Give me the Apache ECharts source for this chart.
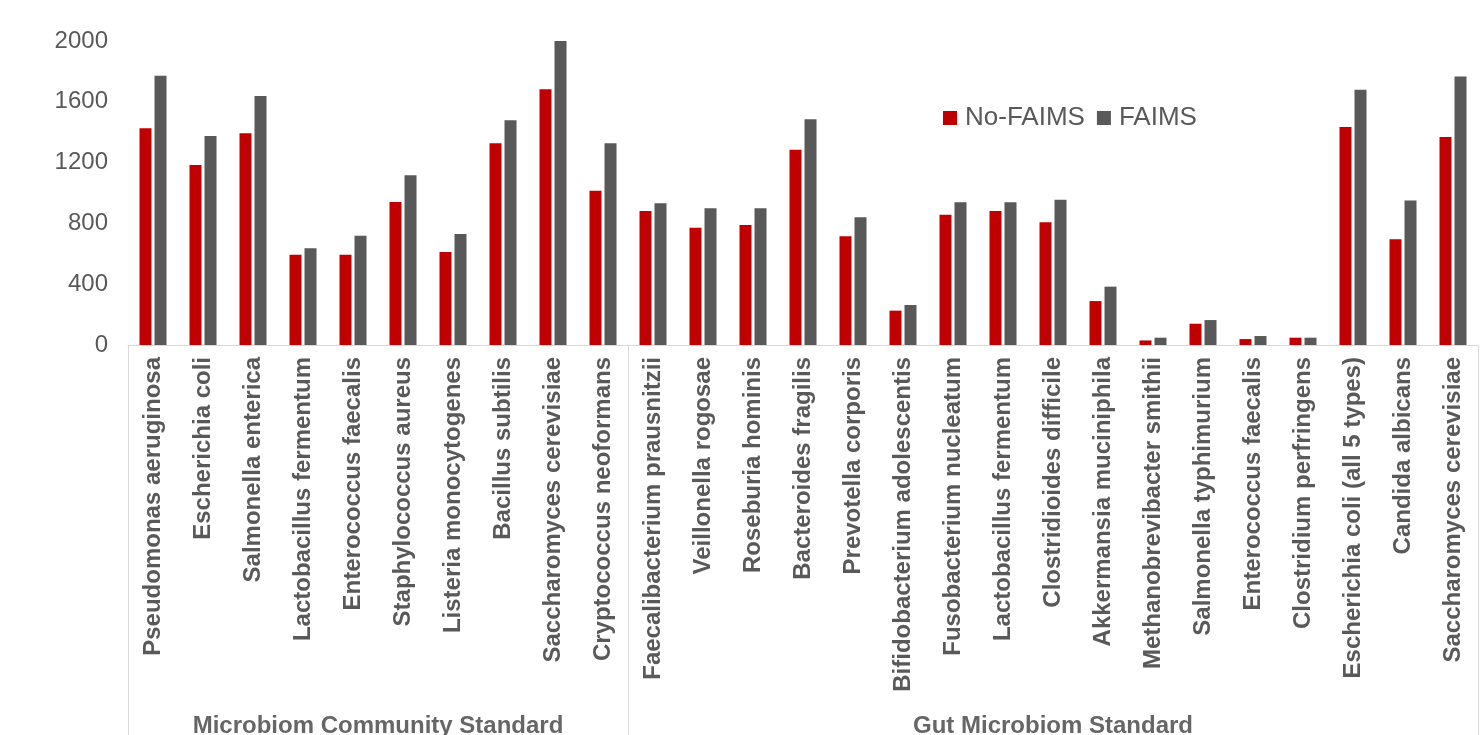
<!DOCTYPE html>
<html>
<head>
<meta charset="utf-8">
<script src="https://cdn.jsdelivr.net/npm/echarts@6/dist/echarts.min.js"></script>
<style>
html,body{margin:0;padding:0;background:#fff;}
#chart{width:1482px;height:735px;}
</style>
</head>
<body>
<div id="chart"></div>
<script>
const categories = [
  'Pseudomonas aeruginosa','Escherichia coli','Salmonella enterica','Lactobacillus fermentum',
  'Enterococcus faecalis','Staphylococcus aureus','Listeria monocytogenes','Bacillus subtilis',
  'Saccharomyces cerevisiae','Cryptococcus neoformans',
  'Faecalibacterium prausnitzii','Veillonella rogosae','Roseburia hominis','Bacteroides fragilis',
  'Prevotella corporis','Bifidobacterium adolescentis','Fusobacterium nucleatum','Lactobacillus fermentum ',
  'Clostridioides difficile','Akkermansia muciniphila','Methanobrevibacter smithii','Salmonella typhimurium',
  'Enterococcus faecalis ','Clostridium perfringens','Escherichia coli (all 5 types)','Candida albicans',
  'Saccharomyces cerevisiae '
];
const noFaims = [1426,1184,1393,594,594,941,612,1327,1682,1015,
  882,772,789,1285,715,226,857,882,807,289,30,140,39,48,1434,695,1368];
const faims = [1772,1375,1638,636,719,1116,730,1478,2000,1327,
  932,899,899,1485,840,263,939,939,956,384,48,164,59,48,1680,950,1766];
const seriesNames = ['No-FAIMS','FAIMS'];
const groupNames = ['Microbiom Community Standard','Gut Microbiom Standard'];
const groupSizes = [10,17];
const yMin = 0, yMax = 2000, yInterval = 400;

// group boundaries and centers derived from group sizes
const bounds = [0];
groupSizes.forEach(s => bounds.push(bounds[bounds.length-1] + s));
const groupLabelData = groupNames.map((n,i) => [(bounds[i]+bounds[i+1])/2, 0.023, n]);

const FONT = '"Liberation Sans", Arial, sans-serif';
const TXT = '#595959';

const chart = echarts.init(document.getElementById('chart'));
chart.setOption({
  animation: false,
  backgroundColor: '#ffffff',
  legend: {
    data: seriesNames,
    left: 938,
    top: 100,
    icon: 'rect',
    itemWidth: 14,
    itemHeight: 14,
    itemGap: 12,
    textStyle: {fontSize: 26, color: TXT, fontFamily: FONT, padding: [0,0,0,3]}
  },
  grid: [
    {left: 128, right: 4, top: 41, bottom: 390, containLabel: false},
    {left: 128, right: 4, top: 345, bottom: 0, containLabel: false}
  ],
  xAxis: [
    {
      type: 'category', gridIndex: 0, data: categories,
      axisLine: {show: true, lineStyle: {color: '#d9d9d9', width: 1}},
      axisTick: {show: false},
      axisLabel: {
        interval: 0, rotate: 90, margin: 12, fontSize: 24, fontWeight: 'bold',
        color: TXT, fontFamily: FONT,
        formatter: v => v.trim()
      }
    },
    {
      type: 'value', gridIndex: 1, min: bounds[0], max: bounds[bounds.length-1],
      show: false
    }
  ],
  yAxis: [
    {
      type: 'value', gridIndex: 0, min: yMin, max: yMax, interval: yInterval,
      axisLine: {show: false}, axisTick: {show: false},
      splitLine: {show: false},
      axisLabel: {fontSize: 24, color: TXT, fontFamily: FONT, margin: 20,
        formatter: v => String(v)}
    },
    {type: 'value', gridIndex: 1, min: 0, max: 1, show: false}
  ],
  series: [
    {
      name: seriesNames[0], type: 'bar', data: noFaims,
      xAxisIndex: 0, yAxisIndex: 0,
      barWidth: 12, barGap: '25%',
      itemStyle: {color: '#C00000'}
    },
    {
      name: seriesNames[1], type: 'bar', data: faims,
      xAxisIndex: 0, yAxisIndex: 0,
      barWidth: 12, barGap: '25%',
      itemStyle: {color: '#595959'}
    },
    {
      name: 'groups', type: 'scatter', xAxisIndex: 1, yAxisIndex: 1,
      data: groupLabelData, symbolSize: 0, silent: true,
      label: {
        show: true, position: 'inside', formatter: p => p.value[2],
        fontSize: 24, fontWeight: 'bold', color: '#404040', fontFamily: FONT
      },
      markLine: {
        silent: true, symbol: ['none','none'],
        label: {show: false},
        lineStyle: {color: '#d9d9d9', type: 'solid', width: 1},
        data: bounds.map(b => ({xAxis: b}))
      }
    }
  ]
});
</script>
</body>
</html>
